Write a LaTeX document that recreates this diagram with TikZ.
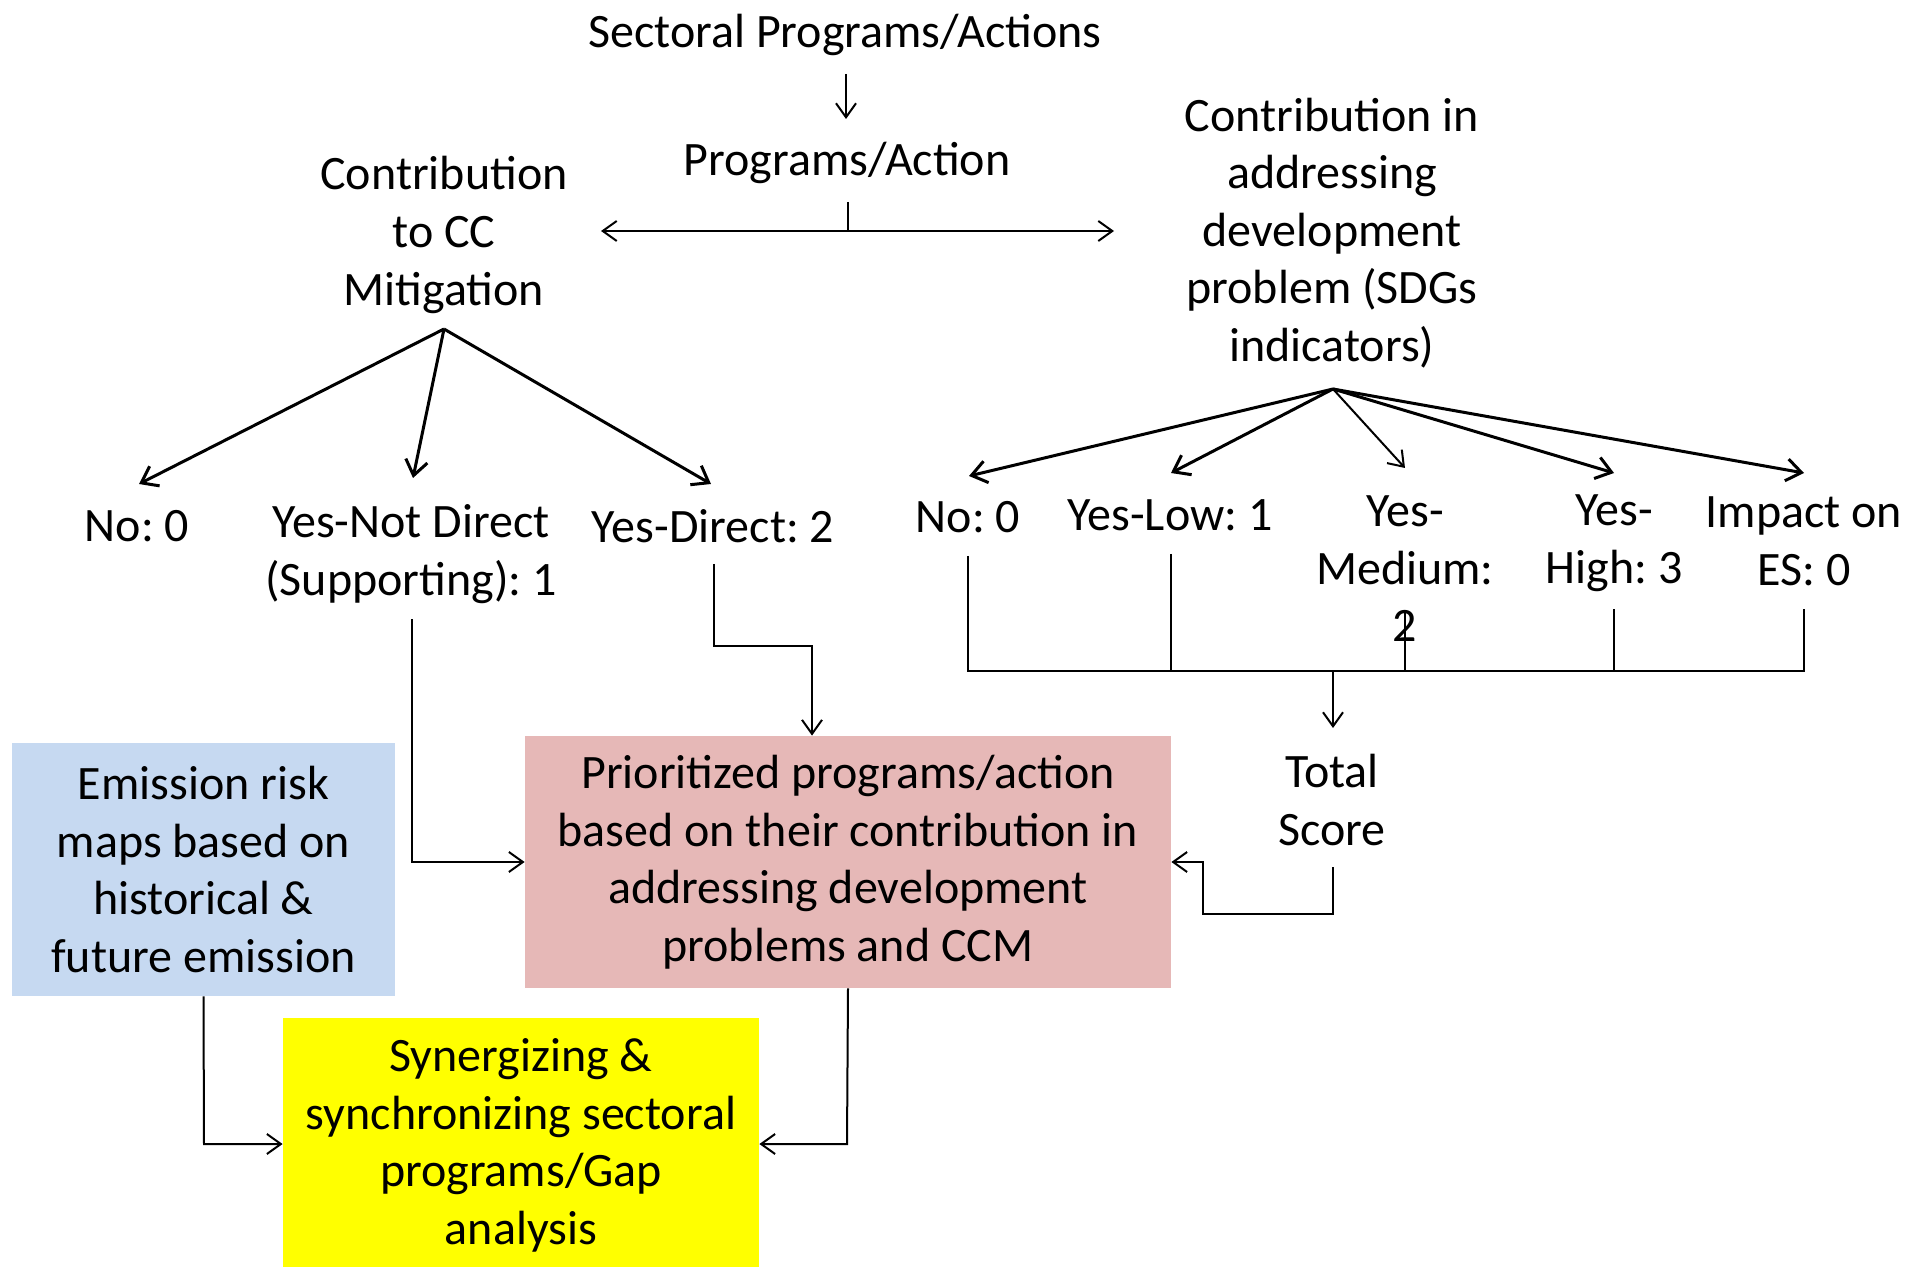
\documentclass[tikz,border=0pt]{standalone}
\usepackage{fontspec}
\setmainfont{Carlito}
\usetikzlibrary{arrows.meta,calc}
\definecolor{pinkfill}{HTML}{E6B8B7}
\definecolor{bluefill}{HTML}{C6D9F1}
\definecolor{yellowfill}{HTML}{FFFF00}
\frenchspacing
\begin{document}
\begin{tikzpicture}[x=0.5pt,y=-0.5pt,
  lbl/.style={font=\fontsize{24}{28.8}\selectfont, align=center, inner sep=0pt},
  box/.style={lbl, minimum width=#1, minimum height=126pt},
  wire/.style={line width=1pt},
  tip/.style={-{Straight Barb[length=7pt,width=10pt]}},
  fan/.style={line width=1.5pt, -{Straight Barb[length=7.5pt,width=11pt]}}
]
\useasboundingbox[fill=white] (0,0) rectangle (1923,1267);

% top of the tree
\node[lbl] (sec) at (845,35) {Sectoral Programs/Actions};
\node[lbl] (prog) at (847,163) {Programs/Action};
\coordinate (secout) at (846,74);
\coordinate (progin) at (846,119);
\coordinate (progout) at (848,202);
\coordinate (split) at (848,231);
\coordinate (splitl) at (601,231);
\coordinate (splitr) at (1114,231);
\draw[wire,tip] (secout) -- (progin);
\draw[wire] (progout) -- (split);
\draw[wire,tip] (split) -- (splitl);
\draw[wire,tip] (split) -- (splitr);

% mitigation branch
\node[lbl] (ccm) at (444,235) {Contribution\\to CC\\Mitigation};
\coordinate (ccmroot) at (444,329);
\coordinate (t1) at (139,484);
\coordinate (t2) at (413,478);
\coordinate (t3) at (711,484);
\draw[fan] (ccmroot) -- (t1);
\draw[fan] (ccmroot) -- (t2);
\draw[fan] (ccmroot) -- (t3);
\node[lbl] (no1) at (137,526) {No: 0};
\node[lbl] (ynd) at (411,554) {Yes-Not Direct\\(Supporting): 1};
\node[lbl] (yd) at (713,526) {Yes-Direct: 2};

% development branch
\node[lbl] (sdg) at (1332,233) {Contribution in\\addressing\\development\\problem (SDGs\\indicators)};
\coordinate (sdgroot) at (1333,389);
\coordinate (u1) at (969,476);
\coordinate (u2) at (1171,473);
\coordinate (u3) at (1405,468);
\coordinate (u4) at (1614,473);
\coordinate (u5) at (1804,473);
\draw[fan] (sdgroot) -- (u1);
\draw[fan] (sdgroot) -- (u2);
\draw[wire,tip] (sdgroot) -- (u3);
\draw[fan] (sdgroot) -- (u4);
\draw[fan] (sdgroot) -- (u5);
\node[lbl] (no2) at (968,517) {No: 0};
\node[lbl] (ylow) at (1170,515) {Yes-Low: 1};
\node[lbl] (ymed) at (1405,569) {Yes-\\Medium:\\2};
\node[lbl] (yhigh) at (1614,543) {Yes-\\High: 3};
\node[lbl] (imp) at (1804,541) {Impact on\\ES: 0};

% score bus
\coordinate (b1) at (968,556);
\coordinate (b2) at (1171,554);
\coordinate (b3) at (1405,613);
\coordinate (b4) at (1614,609);
\coordinate (b5) at (1804,609);
\coordinate (busy) at (0,671);
\draw[wire] (b1) |- (b5 |- busy) -- (b5);
\draw[wire] (b2) -- (b2 |- busy);
\draw[wire] (b3) -- (b3 |- busy);
\draw[wire] (b4) -- (b4 |- busy);
\coordinate (busout) at (1333,671);
\coordinate (totin) at (1333,728);
\draw[wire,tip] (busout) -- (totin);
\node[lbl] (tot) at (1332,800) {Total\\Score};

% boxes
\node[box=323pt, fill=pinkfill] (pri) at (848,862)
  {Prioritized programs/action\\based on their contribution in\\addressing development\\problems and CCM};
\node[box=191.5pt, fill=bluefill, minimum height=126.5pt] (emi) at (203.5,869.5)
  {Emission risk\\maps based on\\historical \&\\future emission};
\node[box=238pt, fill=yellowfill, minimum height=127.5pt] (syn) at (521,1145.5)
  {Synergizing \&\\synchronizing sectoral\\programs/Gap\\analysis};

% connectors into the boxes
\coordinate (totout) at (1333,867);
\coordinate (fb1) at (1333,914);
\coordinate (fb2) at (1203,914);
\coordinate (fb3) at (1203,862);
\draw[wire,tip] (totout) -- (fb1) -- (fb2) -- (fb3) -- (pri.east);
\coordinate (yndout) at (412,619);
\draw[wire,tip] (yndout) |- (pri.west);
\coordinate (ydout) at (714,564);
\coordinate (yd1) at (714,646);
\coordinate (yd2) at (812,646);
\draw[wire,tip] (ydout) -- (yd1) -- (yd2) -- (yd2 |- pri.north);
\coordinate (emiout) at (204,1144);
\coordinate (priout) at (847,1144);
\draw[wire,tip] (emi.south) -- (emiout) -- (emiout -| syn.west);
\draw[wire,tip] (pri.south) -- (priout) -- (priout -| syn.east);
\end{tikzpicture}
\end{document}
